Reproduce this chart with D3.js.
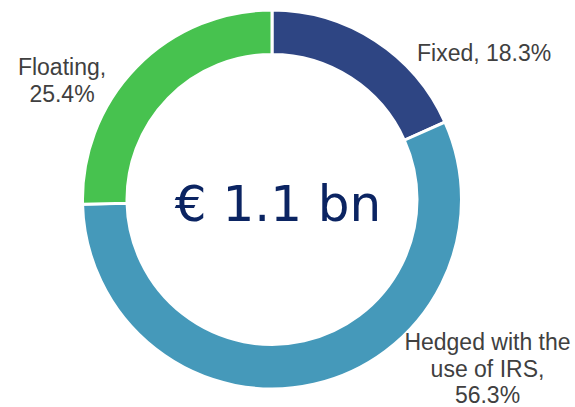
<!DOCTYPE html>
<html>
<head>
<meta charset="utf-8">
<script src="https://cdn.jsdelivr.net/npm/d3@7"></script>
<style>
  body { margin: 0; background: #fff; }
  svg { display: block; }
</style>
</head>
<body>
<svg id="chart" width="575" height="407"></svg>
<script>
// debt breakdown
var categories = ["Fixed", "Hedged with the use of IRS", "Floating"];
var shares = [18.3, 56.3, 25.4];
var labelLines = [
    ["Fixed, 18.3%"],
    ["Hedged with the", "use of IRS,", "56.3%"],
    ["Floating,", "25.4%"]
];
var totalLabel = "€ 1.1 bn";

var colors = ["#2E4583", "#4599BA", "#47C24F"];

var svg = d3.select("#chart");

var cx = 272, cy = 199.5;
var outerR = 189.5, innerR = 145;

// where each label sits, relative to the chart centre
var labelPos = [
    {x: 145, y: -139, anchor: "start"},
    {x: 215.5, y: 150.5, anchor: "middle"},
    {x: -210, y: -124.5, anchor: "middle"}
];
var lineH = 26.5;

var pie = d3.pie()
    .sort(null)
    .value(d => d);

var arc = d3.arc()
    .innerRadius(innerR)
    .outerRadius(outerR);

var g = svg.append("g")
    .attr("transform", "translate(" + cx + "," + cy + ")");

g.selectAll(".slice")
    .data(pie(shares))
    .enter()
    .append("path")
    .attr("class", "slice")
    .attr("d", arc)
    .attr("fill", (d, i) => colors[i])
    .attr("stroke", "#FFFFFF")
    .attr("stroke-width", 3);

// labels
var labels = g.selectAll(".lbl")
    .data(categories)
    .enter()
    .append("text")
    .attr("class", "lbl")
    .attr("text-anchor", (d, i) => labelPos[i].anchor)
    .style("font-family", "'Liberation Sans', Arial, sans-serif")
    .style("font-size", "23px")
    .attr("fill", "#404040");

labels.each(function(d, i) {
    var t = d3.select(this);
    labelLines[i].forEach(function(line, k) {
        t.append("tspan")
            .attr("x", labelPos[i].x)
            .attr("y", labelPos[i].y + k * lineH)
            .text(line);
    });
});

// total in the middle
g.append("text")
    .attr("x", 6)
    .attr("y", 21.5)
    .attr("text-anchor", "middle")
    .style("font-family", "'DejaVu Sans', sans-serif")
    .style("font-size", "50px")
    .attr("fill", "#0B2462")
    .text(totalLabel);
</script>
</body>
</html>
